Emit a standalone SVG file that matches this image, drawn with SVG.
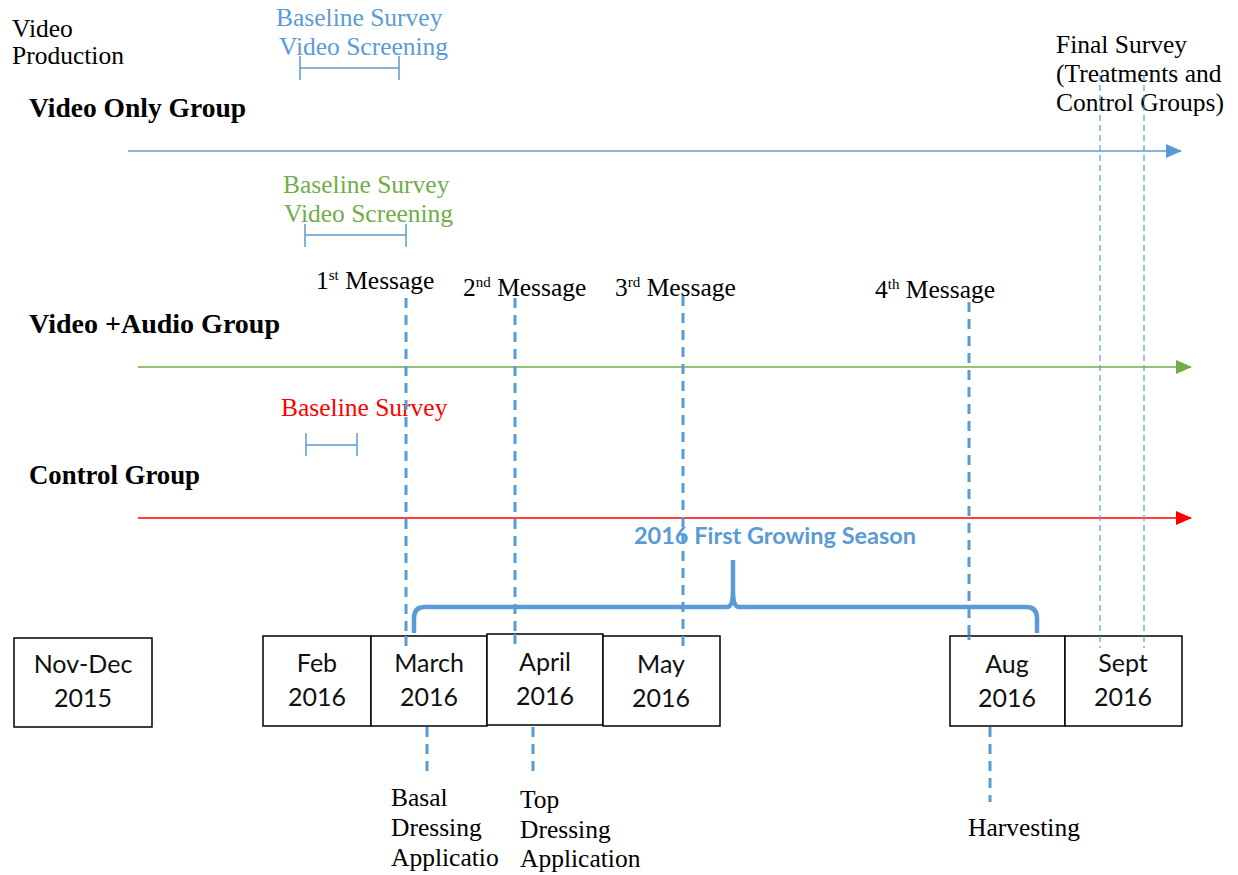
<svg xmlns="http://www.w3.org/2000/svg" width="1238" height="875" viewBox="0 0 1238 875">
<style>
.t{font-family:"Liberation Serif","Times New Roman",serif;font-size:25.5px;fill:#000}
.b{font-weight:bold;font-size:26.5px}
.blue{fill:#5B9BD5}
.green{fill:#70AD47}
.red{fill:#FF0000}
.bx{fill:#fff;stroke:#000;stroke-width:1.5}
.bt{font-family:Lato,"Liberation Sans",sans-serif;font-size:25px;fill:#111;text-anchor:middle}
.dk{stroke:#5B9BD5;stroke-width:3;stroke-dasharray:10 7;fill:none}
.dt{stroke:#5B9BD5;stroke-width:1.2;stroke-dasharray:6 4;fill:none}
.rng{stroke:#5B9BD5;stroke-width:1.5;fill:none}
.sup{font-size:15px}
</style>
<defs>
<marker id="ab" markerWidth="16" markerHeight="14" refX="15" refY="7" orient="auto" markerUnits="userSpaceOnUse"><path d="M0,0 L16,7 L0,14 Z" fill="#5B9BD5"/></marker>
<marker id="ag" markerWidth="16" markerHeight="14" refX="15" refY="7" orient="auto" markerUnits="userSpaceOnUse"><path d="M0,0 L16,7 L0,14 Z" fill="#70AD47"/></marker>
<marker id="ar" markerWidth="16" markerHeight="14" refX="15" refY="7" orient="auto" markerUnits="userSpaceOnUse"><path d="M0,0 L16,7 L0,14 Z" fill="#FF0000"/></marker>
</defs>

<g id="labels">
<text class="t" x="12" y="37">Video</text>
<text class="t" x="12" y="64">Production</text>
<text class="t blue" x="276" y="26">Baseline Survey</text>
<text class="t blue" x="279" y="55">Video Screening</text>
<text class="t b" x="29" y="117" textLength="217" lengthAdjust="spacingAndGlyphs">Video Only Group</text>
<text class="t" x="1056" y="53">Final Survey</text>
<text class="t" x="1056" y="82">(Treatments and</text>
<text class="t" x="1056" y="111">Control Groups)</text>
<text class="t green" x="283" y="193">Baseline Survey</text>
<text class="t green" x="284" y="222">Video Screening</text>
<text class="t" x="316" y="289">1<tspan class="sup" dy="-9">st</tspan><tspan dy="9"> Message</tspan></text>
<text class="t" x="463" y="296">2<tspan class="sup" dy="-9">nd</tspan><tspan dy="9"> Message</tspan></text>
<text class="t" x="615" y="296">3<tspan class="sup" dy="-9">rd</tspan><tspan dy="9"> Message</tspan></text>
<text class="t" x="875" y="298">4<tspan class="sup" dy="-9">th</tspan><tspan dy="9"> Message</tspan></text>
<text class="t b" x="29" y="333" textLength="251" lengthAdjust="spacingAndGlyphs">Video +Audio Group</text>
<text class="t red" x="281" y="416">Baseline Survey</text>
<text class="t b" x="29" y="484" textLength="171" lengthAdjust="spacingAndGlyphs">Control Group</text>
<text x="634" y="544" font-family="Lato,'Liberation Sans',sans-serif" font-weight="bold" font-size="22" fill="#5B9BD5" textLength="282" lengthAdjust="spacingAndGlyphs">2016 First Growing Season</text>
<text class="t" x="391" y="806">Basal</text>
<text class="t" x="391" y="836">Dressing</text>
<text class="t" x="391" y="866">Applicatio</text>
<text class="t" x="520" y="808">Top</text>
<text class="t" x="520" y="838">Dressing</text>
<text class="t" x="520" y="867">Application</text>
<text class="t" x="968" y="836">Harvesting</text>
</g>

<g id="connectors">
<line x1="128" y1="151" x2="1181" y2="151" stroke="#5B9BD5" stroke-width="1.5" marker-end="url(#ab)"/>
<line x1="138" y1="367" x2="1191" y2="367" stroke="#70AD47" stroke-width="1.5" marker-end="url(#ag)"/>
<line x1="138" y1="518" x2="1191" y2="518" stroke="#FF0000" stroke-width="1.5" marker-end="url(#ar)"/>
<path class="rng" d="M300,56 V80 M300,68 H399 M399,56 V80"/>
<path class="rng" d="M305,224 V247 M305,235 H406 M406,224 V247"/>
<path class="rng" d="M306,433 V456 M306,445 H357 M357,433 V456"/>
<line class="dk" x1="406" y1="298" x2="406" y2="640"/>
<line class="dk" x1="515" y1="298" x2="515" y2="640"/>
<line class="dk" x1="683" y1="296" x2="683" y2="650"/>
<line class="dk" x1="969" y1="302" x2="969" y2="640"/>
<line class="dt" x1="1100" y1="75" x2="1100" y2="640"/>
<line class="dt" x1="1144" y1="75" x2="1144" y2="640"/>
<line class="dk" x1="427" y1="727" x2="427" y2="778"/>
<line class="dk" x1="533" y1="727" x2="533" y2="778"/>
<line class="dk" x1="990" y1="727" x2="990" y2="802"/>
<path d="M414,633 V618 Q414,607 425,607 H727 Q733,607 733,590 V560 M733,590 Q733,607 739,607 H1026 Q1037,607 1037,618 V633" fill="none" stroke="#5B9BD5" stroke-width="4.5"/>
</g>

<g id="nov-dec"><rect class="bx" x="14" y="638" width="138" height="89"/><text class="bt" x="83" y="673">Nov-Dec</text><text class="bt" x="83" y="707">2015</text></g>
<g id="feb"><rect class="bx" x="263" y="636" width="108" height="90"/><text class="bt" x="317" y="672">Feb</text><text class="bt" x="317" y="706">2016</text></g>
<g id="march"><rect class="bx" x="371" y="636" width="116" height="90"/><text class="bt" x="429" y="672">March</text><text class="bt" x="429" y="706">2016</text></g>
<g id="april"><rect class="bx" x="487" y="634" width="116" height="91"/><text class="bt" x="545" y="671">April</text><text class="bt" x="545" y="705">2016</text></g>
<g id="may"><rect class="bx" x="603" y="636" width="117" height="90"/><text class="bt" x="661" y="673">May</text><text class="bt" x="661" y="707">2016</text></g>
<g id="aug"><rect class="bx" x="950" y="636" width="115" height="90"/><text class="bt" x="1007" y="673">Aug</text><text class="bt" x="1007" y="707">2016</text></g>
<g id="sept"><rect class="bx" x="1065" y="636" width="117" height="90"/><text class="bt" x="1123" y="672">Sept</text><text class="bt" x="1123" y="706">2016</text></g>
<line class="dk" x1="406" y1="636" x2="406" y2="648"/>
<line class="dk" x1="515" y1="634" x2="515" y2="650"/>
<line class="dk" x1="683" y1="636" x2="683" y2="652"/>
<line class="dk" x1="969" y1="636" x2="969" y2="640"/>
<line class="dt" x1="1100" y1="636" x2="1100" y2="648"/>
<line class="dt" x1="1144" y1="636" x2="1144" y2="648"/>
</svg>
